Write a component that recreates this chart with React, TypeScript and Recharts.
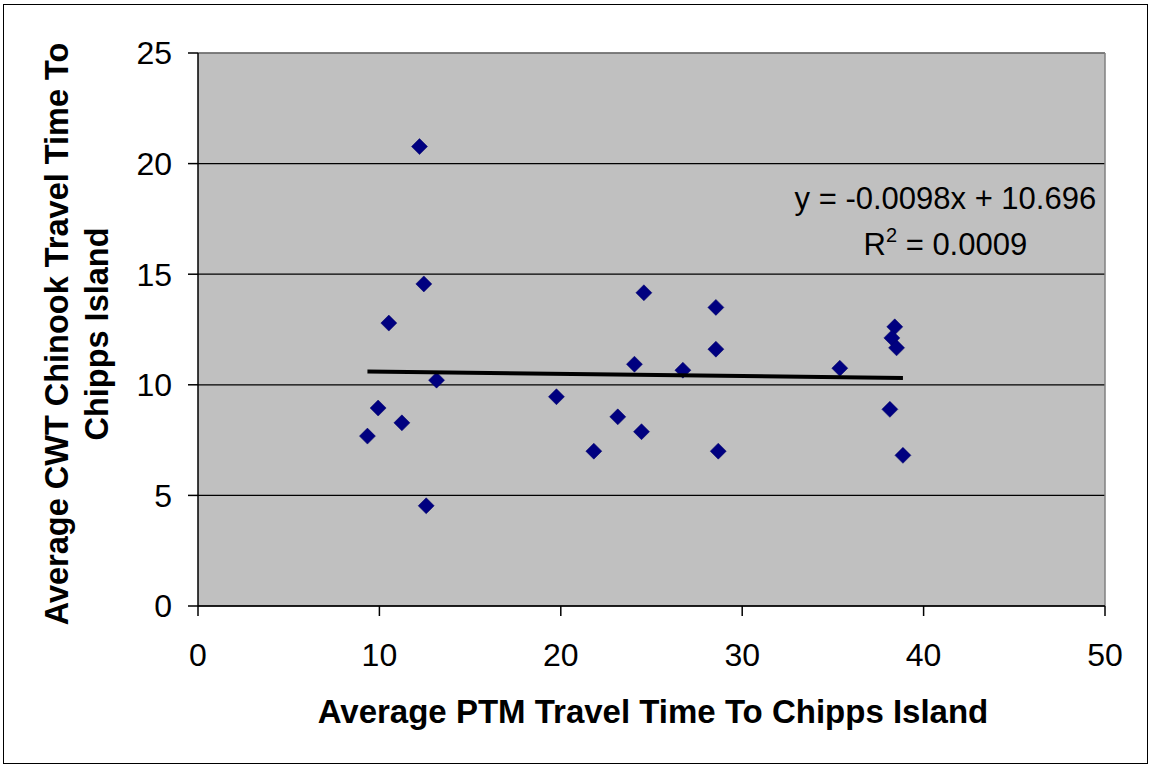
import React from "react";
import {
  ScatterChart,
  Scatter,
  XAxis,
  YAxis,
  CartesianGrid,
  ReferenceLine,
  ReferenceDot,
  Label,
} from "recharts";

const ptmTravelTime = [
  12.21, 12.45, 10.52, 24.58, 13.15, 9.93, 11.24, 9.34, 12.58, 19.76, 21.82, 23.14,
  24.45, 24.06, 26.73, 28.55, 28.55, 35.38, 38.41, 38.25, 38.51, 38.14, 28.68, 38.86,
];
const cwtTravelTime = [
  20.77, 14.56, 12.79, 14.16, 10.21, 8.95, 8.28, 7.68, 4.53, 9.46, 7.0, 8.55,
  7.88, 10.93, 10.66, 13.5, 11.61, 10.75, 12.62, 12.12, 11.67, 8.89, 7.0, 6.81,
];
const trendX = [9.34, 38.86];
const trendY = [10.6, 10.31];
const xTicks = [0, 10, 20, 30, 40, 50];
const yTicks = [0, 5, 10, 15, 20, 25];
const equationText = "y = -0.0098x + 10.696";
const r2Value = "0.0009";
const xTitle = "Average PTM Travel Time To Chipps Island";
const yTitleLines = ["Average CWT Chinook Travel Time To", "Chipps Island"];

const points = ptmTravelTime.map((x, i) => ({ x, y: cwtTravelTime[i] }));
const trend = trendX.map((x, i) => ({ x, y: trendY[i] }));

const FONT = "'Liberation Sans', Arial, Helvetica, sans-serif";

const Diamond = (props: any) => {
  const { cx, cy } = props;
  if (cx == null || cy == null) return null;
  const s = 8;
  return (
    <polygon
      points={`${cx},${cy - s} ${cx + s},${cy} ${cx},${cy + s} ${cx - s},${cy}`}
      fill="#000080"
      stroke="#000066"
      strokeWidth={0.5}
    />
  );
};

const NoShape = () => null;

const XTitle = () => (
  <text
    x={653}
    y={723}
    textAnchor="middle"
    fontFamily={FONT}
    fontWeight="bold"
    fontSize={33}
    fill="#000"
  >
    {xTitle}
  </text>
);

const YTitle = () => (
  <g>
    {yTitleLines.map((line, i) => {
      const bx = 68 + i * 40;
      const cy = 334;
      return (
        <text
          key={i}
          x={bx}
          y={cy}
          transform={`rotate(-90, ${bx}, ${cy})`}
          textAnchor="middle"
          fontFamily={FONT}
          fontWeight="bold"
          fontSize={32.5}
          fill="#000"
        >
          {line}
        </text>
      );
    })}
  </g>
);

const EquationLabel = (props: any) => {
  const vb = props.viewBox || {};
  const cx = vb.x ?? 945;
  const cy = vb.y ?? 197;
  return (
    <g fontFamily={FONT} fontSize={31} fill="#000">
      <text x={cx} y={cy + 12} textAnchor="middle" fill="#000">
        {equationText}
      </text>
      <text x={cx} y={cy + 58} textAnchor="middle" fill="#000">
        R
        <tspan fontSize={20} dy={-13}>
          2
        </tspan>
        <tspan dy={13}>{` = ${r2Value}`}</tspan>
      </text>
    </g>
  );
};

export default function App() {
  return (
    <div
      style={{
        position: "absolute",
        left: 0,
        top: 0,
        width: 1151,
        height: 767,
        background: "#fff",
      }}
    >
      <div
        style={{
          position: "absolute",
          left: 3,
          top: 4,
          width: 1143,
          height: 758,
          border: "1.5px solid #000",
        }}
      />
      <div style={{ position: "absolute", left: 0, top: 0 }}>
        <ScatterChart
          width={1151}
          height={767}
          margin={{ top: 53, right: 46, bottom: 0, left: 0 }}
        >
          <CartesianGrid
            vertical={false}
            stroke="#000"
            strokeWidth={1.2}
            fill="#C0C0C0"
            fillOpacity={1}
          />
          <XAxis
            type="number"
            dataKey="x"
            domain={[0, 50]}
            ticks={xTicks}
            interval={0}
            height={161}
            tickSize={10}
            tickMargin={27}
            axisLine={{ stroke: "#000", strokeWidth: 1.5 }}
            tickLine={{ stroke: "#000", strokeWidth: 1.5 }}
            tick={{ fill: "#000", fontSize: 32, fontFamily: FONT }}
            allowDataOverflow
          >
            <Label content={XTitle} />
          </XAxis>
          <YAxis
            type="number"
            dataKey="y"
            domain={[0, 25]}
            ticks={yTicks}
            interval={0}
            width={198}
            tickSize={10}
            tickMargin={16}
            axisLine={{ stroke: "#000", strokeWidth: 1.5 }}
            tickLine={{ stroke: "#000", strokeWidth: 1.5 }}
            tick={{ fill: "#000", fontSize: 32, fontFamily: FONT }}
            allowDataOverflow
          >
            <Label content={YTitle} />
          </YAxis>
          <ReferenceLine y={25} stroke="#808080" strokeWidth={1.5} />
          <ReferenceLine x={50} stroke="#808080" strokeWidth={1.5} />
          <Scatter
            data={points}
            shape={Diamond}
            isAnimationActive={false}
          />
          <Scatter
            data={trend}
            line={{ stroke: "#000", strokeWidth: 4 }}
            shape={NoShape}
            isAnimationActive={false}
          />
          <ReferenceDot
            x={41.2}
            y={18.5}
            r={0}
            fill="none"
            stroke="none"
            label={{ content: EquationLabel }}
          />
        </ScatterChart>
      </div>
    </div>
  );
}
